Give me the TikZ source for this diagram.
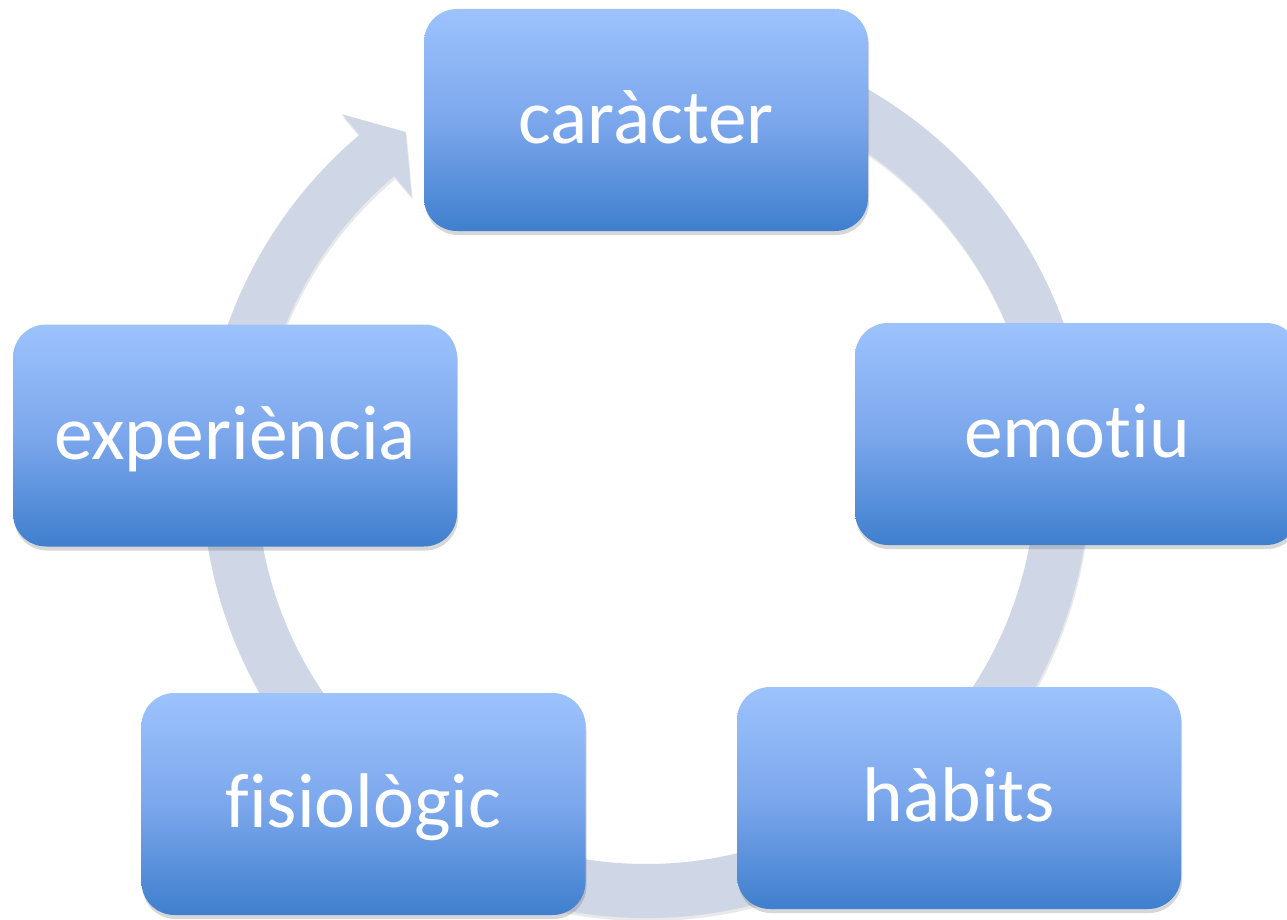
\documentclass[tikz,border=0pt]{standalone}
\usepackage{fontspec}
\setmainfont{Carlito}[Ligatures={NoCommon,NoRare,NoContextual}]
\usetikzlibrary{calc,shadows}
\definecolor{ringc}{RGB}{207,215,230}
\definecolor{boxtop}{RGB}{157,195,253}
\definecolor{boxmid}{RGB}{124,167,236}
\definecolor{boxbot}{RGB}{63,127,206}
\tikzset{
  cyclebox/.style={rounded corners=33pt, minimum width=444pt, minimum height=222pt,
    inner sep=0pt, top color=boxtop, bottom color=boxbot, middle color=boxmid, draw=none,
    text=white, font=\fontsize{77.5pt}{90pt}\selectfont,
    text height=47pt, text depth=0pt,
    drop shadow={shadow xshift=1pt, shadow yshift=-4pt, opacity=0.22, fill=black!70}},
  ringshape/.style={fill=ringc,
    drop shadow={shadow xshift=1pt, shadow yshift=-3pt, opacity=0.12, fill=black!70}}
}
\begin{document}
\begin{tikzpicture}[x=1pt,y=1pt]
\useasboundingbox (0,0) rectangle (1287,-920);
\clip (0,0) rectangle (1287,-920);
\fill[white] (0,0) rectangle (1287,-920);
\coordinate (C) at (646,-474);
% ring with arrowhead
\path[ringshape] ($(C)+(80:444pt)$) arc[start angle=80, end angle=-229.8, radius=444pt]
  -- ($(C)+(130.2:471pt)$) -- ($(C)+(125.1:418pt)$) -- ($(C)+(130.2:363pt)$)
  -- ($(C)+(130.2:390pt)$) arc[start angle=-229.8, end angle=80, radius=390pt] -- cycle;
% boxes
\node[cyclebox] (caracter) at (646,-120) {caràcter};
\node[cyclebox] (emotiu) at (1077,-434) {emotiu};
\node[cyclebox] (habits) at (959,-798) {hàbits};
\node[cyclebox] (fisiologic) at (363.5,-804) {fisiològic};
\node[cyclebox] (experiencia) at (235,-435.5) {experiència};
\end{tikzpicture}
\end{document}
